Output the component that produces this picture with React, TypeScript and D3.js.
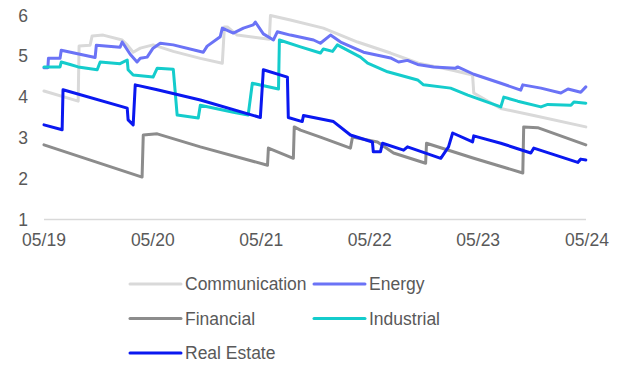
import * as d3 from "d3";

type Pt = [string, number];

const communication: Pt[] = [
  ["2019-05-01", 4.15], ["2019-08-24", 3.9], ["2019-08-27", 5.25], ["2019-10-03", 5.27],
  ["2019-10-10", 5.5], ["2019-11-16", 5.52], ["2020-01-19", 5.4], ["2020-02-05", 5.28],
  ["2020-02-25", 5.1], ["2020-03-20", 5.2], ["2020-05-02", 5.28], ["2020-07-09", 5.12],
  ["2020-10-08", 4.95], ["2020-12-21", 4.83], ["2020-12-28", 5.72], ["2021-01-07", 5.72],
  ["2021-02-09", 5.52], ["2021-05-28", 5.42], ["2021-06-01", 6.0], ["2021-08-07", 5.89],
  ["2021-11-26", 5.69], ["2022-03-21", 5.35], ["2022-07-10", 5.08], ["2022-10-12", 4.83],
  ["2023-02-04", 4.66], ["2023-04-12", 4.54], ["2023-04-16", 4.1], ["2023-07-16", 3.72],
  ["2023-11-04", 3.55], ["2024-04-27", 3.27],
];

const energy: Pt[] = [
  ["2019-05-01", 4.72], ["2019-05-14", 4.72], ["2019-05-16", 4.95], ["2019-06-24", 4.95],
  ["2019-06-28", 5.15], ["2019-10-20", 4.97], ["2019-10-24", 5.27], ["2020-01-12", 5.22],
  ["2020-01-19", 5.35], ["2020-02-15", 5.05], ["2020-03-09", 4.86], ["2020-03-20", 4.95],
  ["2020-04-12", 4.98], ["2020-05-02", 5.2], ["2020-05-26", 5.32], ["2020-07-09", 5.28],
  ["2020-10-18", 5.1], ["2020-10-31", 5.25], ["2020-12-14", 5.48], ["2020-12-21", 5.69],
  ["2021-01-27", 5.57], ["2021-03-02", 5.69], ["2021-04-04", 5.77], ["2021-04-11", 5.84],
  ["2021-05-08", 5.55], ["2021-06-11", 5.4], ["2021-06-24", 5.6], ["2021-08-07", 5.52],
  ["2021-10-24", 5.4], ["2021-11-16", 5.32], ["2021-12-20", 5.52], ["2022-01-23", 5.35],
  ["2022-04-10", 5.1], ["2022-07-10", 4.96], ["2022-08-06", 4.86], ["2022-09-05", 4.9],
  ["2022-10-09", 4.8], ["2022-12-02", 4.74], ["2023-02-14", 4.71], ["2023-02-21", 4.74],
  ["2023-04-16", 4.56], ["2023-07-16", 4.34], ["2023-09-21", 4.17], ["2023-09-28", 4.3],
  ["2023-11-28", 4.22], ["2024-02-03", 4.1], ["2024-02-27", 4.2], ["2024-04-10", 4.12],
  ["2024-04-27", 4.25],
];

const financial: Pt[] = [
  ["2019-05-01", 2.83], ["2020-03-26", 2.04], ["2020-03-30", 3.07], ["2020-05-16", 3.1],
  ["2020-10-08", 2.78], ["2021-05-22", 2.33], ["2021-05-25", 2.75], ["2021-08-17", 2.5],
  ["2021-08-20", 3.27], ["2021-09-10", 3.19], ["2021-11-16", 3.02], ["2022-02-25", 2.75],
  ["2022-03-04", 3.02], ["2022-05-27", 2.9], ["2022-07-20", 2.63], ["2022-11-05", 2.38],
  ["2022-11-08", 2.87], ["2023-04-16", 2.5], ["2023-09-28", 2.14], ["2023-10-01", 3.27],
  ["2023-11-17", 3.25], ["2024-04-27", 2.83],
];

const industrial: Pt[] = [
  ["2019-05-01", 4.74], ["2019-06-24", 4.74], ["2019-06-28", 4.86], ["2019-07-28", 4.8],
  ["2019-08-24", 4.74], ["2019-10-27", 4.67], ["2019-11-06", 4.86], ["2020-01-12", 4.82],
  ["2020-02-05", 4.91], ["2020-02-08", 4.67], ["2020-02-25", 4.54], ["2020-05-02", 4.49],
  ["2020-05-16", 4.71], ["2020-07-09", 4.68], ["2020-07-22", 3.56], ["2020-10-01", 3.49],
  ["2020-10-08", 3.8], ["2021-01-27", 3.63], ["2021-03-18", 3.56], ["2021-04-01", 4.34],
  ["2021-06-28", 4.2], ["2021-07-01", 5.4], ["2021-09-10", 5.23], ["2021-11-16", 5.08],
  ["2021-11-26", 5.18], ["2021-12-27", 5.12], ["2022-01-12", 5.28], ["2022-03-31", 4.98],
  ["2022-04-24", 4.83], ["2022-06-30", 4.62], ["2022-10-09", 4.42], ["2022-10-29", 4.3],
  ["2023-01-28", 4.22], ["2023-03-27", 4.05], ["2023-07-16", 3.76], ["2023-07-26", 4.0],
  ["2023-09-11", 3.9], ["2023-11-28", 3.76], ["2023-12-21", 3.82], ["2024-03-08", 3.8],
  ["2024-03-18", 3.88], ["2024-04-27", 3.85],
];

const realEstate: Pt[] = [
  ["2019-05-01", 3.32], ["2019-07-01", 3.2], ["2019-07-04", 4.18], ["2020-02-05", 3.73],
  ["2020-02-08", 3.44], ["2020-02-25", 3.32], ["2020-03-03", 4.3], ["2020-05-16", 4.18],
  ["2020-10-08", 3.93], ["2021-04-28", 3.5], ["2021-05-08", 4.67], ["2021-07-28", 4.49],
  ["2021-07-31", 3.5], ["2021-09-16", 3.4], ["2021-09-20", 3.55], ["2021-12-30", 3.4],
  ["2022-02-25", 3.07], ["2022-05-10", 2.9], ["2022-05-13", 2.66], ["2022-06-06", 2.66],
  ["2022-06-13", 2.87], ["2022-08-23", 2.7], ["2022-09-05", 2.78], ["2022-12-26", 2.5],
  ["2023-01-21", 2.78], ["2023-02-04", 3.12], ["2023-04-12", 2.9], ["2023-04-16", 3.05],
  ["2023-07-16", 2.87], ["2023-10-25", 2.63], ["2023-11-04", 2.75], ["2024-03-31", 2.4],
  ["2024-04-10", 2.48], ["2024-04-27", 2.46],
];

const seriesNames = ["Communication", "Energy", "Financial", "Industrial", "Real Estate"];
const seriesData = [communication, energy, financial, industrial, realEstate];
const yTicks = [1, 2, 3, 4, 5, 6];
const xTicks = ["2019-05-01", "2020-05-01", "2021-05-01", "2022-05-01", "2023-05-01", "2024-05-01"];

const COLORS = ["#d9d9d9", "#6b73f6", "#8c8c8c", "#14cccc", "#0a18f0"];
const FONT = "'Liberation Sans', Arial, sans-serif";
const TEXT = "#595959";

export default function App() {
  const width = 623;
  const height = 365;
  const parse = d3.timeParse("%Y-%m-%d");
  const fmt = d3.timeFormat("%m/%y");

  const x = d3
    .scaleTime()
    .domain([parse(xTicks[0])!, parse(xTicks[xTicks.length - 1])!])
    .range([44, 587]);
  const y = d3.scaleLinear().domain([1, 6]).range([219.5, 15.5]);

  const line = d3
    .line<Pt>()
    .x((d) => x(parse(d[0])!))
    .y((d) => y(d[1]));

  // legend: two columns, three rows
  const legendPos = (i: number) => ({
    lx: i % 2 === 0 ? 130 : 314,
    ly: 284 + Math.floor(i / 2) * 34.5,
  });

  return (
    <svg
      width={width}
      height={height}
      style={{ position: "absolute", left: 0, top: 0, background: "#fff" }}
      fontFamily={FONT}
    >
      <line x1={44} x2={586} y1={y(1)} y2={y(1)} stroke="#d9d9d9" strokeWidth={1.5} />
      {yTicks.map((t) => (
        <text key={t} x={28} y={y(t)} dy="0.35em" textAnchor="end" fontSize={17.5} fill={TEXT}>
          {t}
        </text>
      ))}
      {xTicks.map((t) => (
        <text key={t} x={x(parse(t)!)} y={240} dy="0.35em" textAnchor="middle" fontSize={17.5} fill={TEXT}>
          {fmt(parse(t)!)}
        </text>
      ))}
      {seriesData.map((s, i) => (
        <path
          key={seriesNames[i]}
          d={line(s) || ""}
          fill="none"
          stroke={COLORS[i]}
          strokeWidth={3}
          strokeLinejoin="round"
          strokeLinecap="round"
        />
      ))}
      {seriesNames.map((name, i) => {
        const { lx, ly } = legendPos(i);
        return (
          <g key={name}>
            <line x1={lx} x2={lx + 51} y1={ly} y2={ly} stroke={COLORS[i]} strokeWidth={3} strokeLinecap="round" />
            <text x={lx + 55} y={ly} dy="0.35em" fontSize={17.5} fill={TEXT}>
              {name}
            </text>
          </g>
        );
      })}
    </svg>
  );
}
